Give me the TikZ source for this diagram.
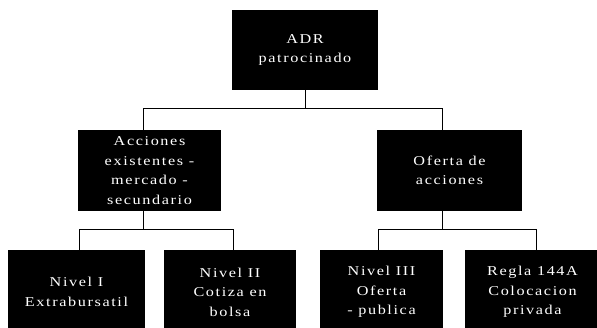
\documentclass[tikz,border=0pt]{standalone}
\usepackage{fontspec}
\setmainfont{Liberation Serif}[FakeStretch=1.2,LetterSpace=12]
\begin{document}
\begin{tikzpicture}[x=1pt,y=-1pt,
  box/.style={fill=black,draw=none,text=white,align=center,inner sep=0pt,
    font=\fontsize{13.5}{19.5}\selectfont},
  conn/.style={draw=black,line width=0.8pt}]
\useasboundingbox (0,0) rectangle (597,327);
\clip (0,0) rectangle (597,327);
\node[box,minimum width=146pt,minimum height=80pt] (top) at (305,50) {ADR\\patrocinado};
\node[box,minimum width=143pt,minimum height=81pt] (ml) at (149.5,170.5) {Acciones\\existentes -\\mercado -\\secundario};
\node[box,minimum width=145pt,minimum height=81pt] (mr) at (449.5,170.5) {Oferta de\\acciones};
\node[box,minimum width=137pt,minimum height=84pt] (b1) at (76.5,292) {Nivel I\\Extrabursatil};
\node[box,minimum width=132pt,minimum height=84pt] (b2) at (230,292) {Nivel II\\Cotiza en\\bolsa};
\node[box,minimum width=123pt,minimum height=84pt] (b3) at (381.5,292) {Nivel III\\Oferta\\- publica};
\node[box,minimum width=135pt,minimum height=84pt] (b4) at (532.5,292) {Regla 144A\\Colocacion\\privada};
% level 1 connectors
\coordinate (a1) at (143,108);
\coordinate (a2) at (442,108);
\draw[conn] (top.south) -- (top.south |- a1);
\draw[conn] (a1 |- ml.north) -- (a1) -- (a2) -- (a2 |- mr.north);
% level 2 left
\coordinate (c0) at (143,229);
\coordinate (c1) at (79,229);
\coordinate (c2) at (233,229);
\draw[conn] (c0 |- ml.south) -- (c0);
\draw[conn] (c1 |- b1.north) -- (c1) -- (c2) -- (c2 |- b2.north);
% level 2 right
\coordinate (d0) at (442,229);
\coordinate (d1) at (378,229);
\coordinate (d2) at (536,229);
\draw[conn] (d0 |- mr.south) -- (d0);
\draw[conn] (d1 |- b3.north) -- (d1) -- (d2) -- (d2 |- b4.north);
\end{tikzpicture}
\end{document}
